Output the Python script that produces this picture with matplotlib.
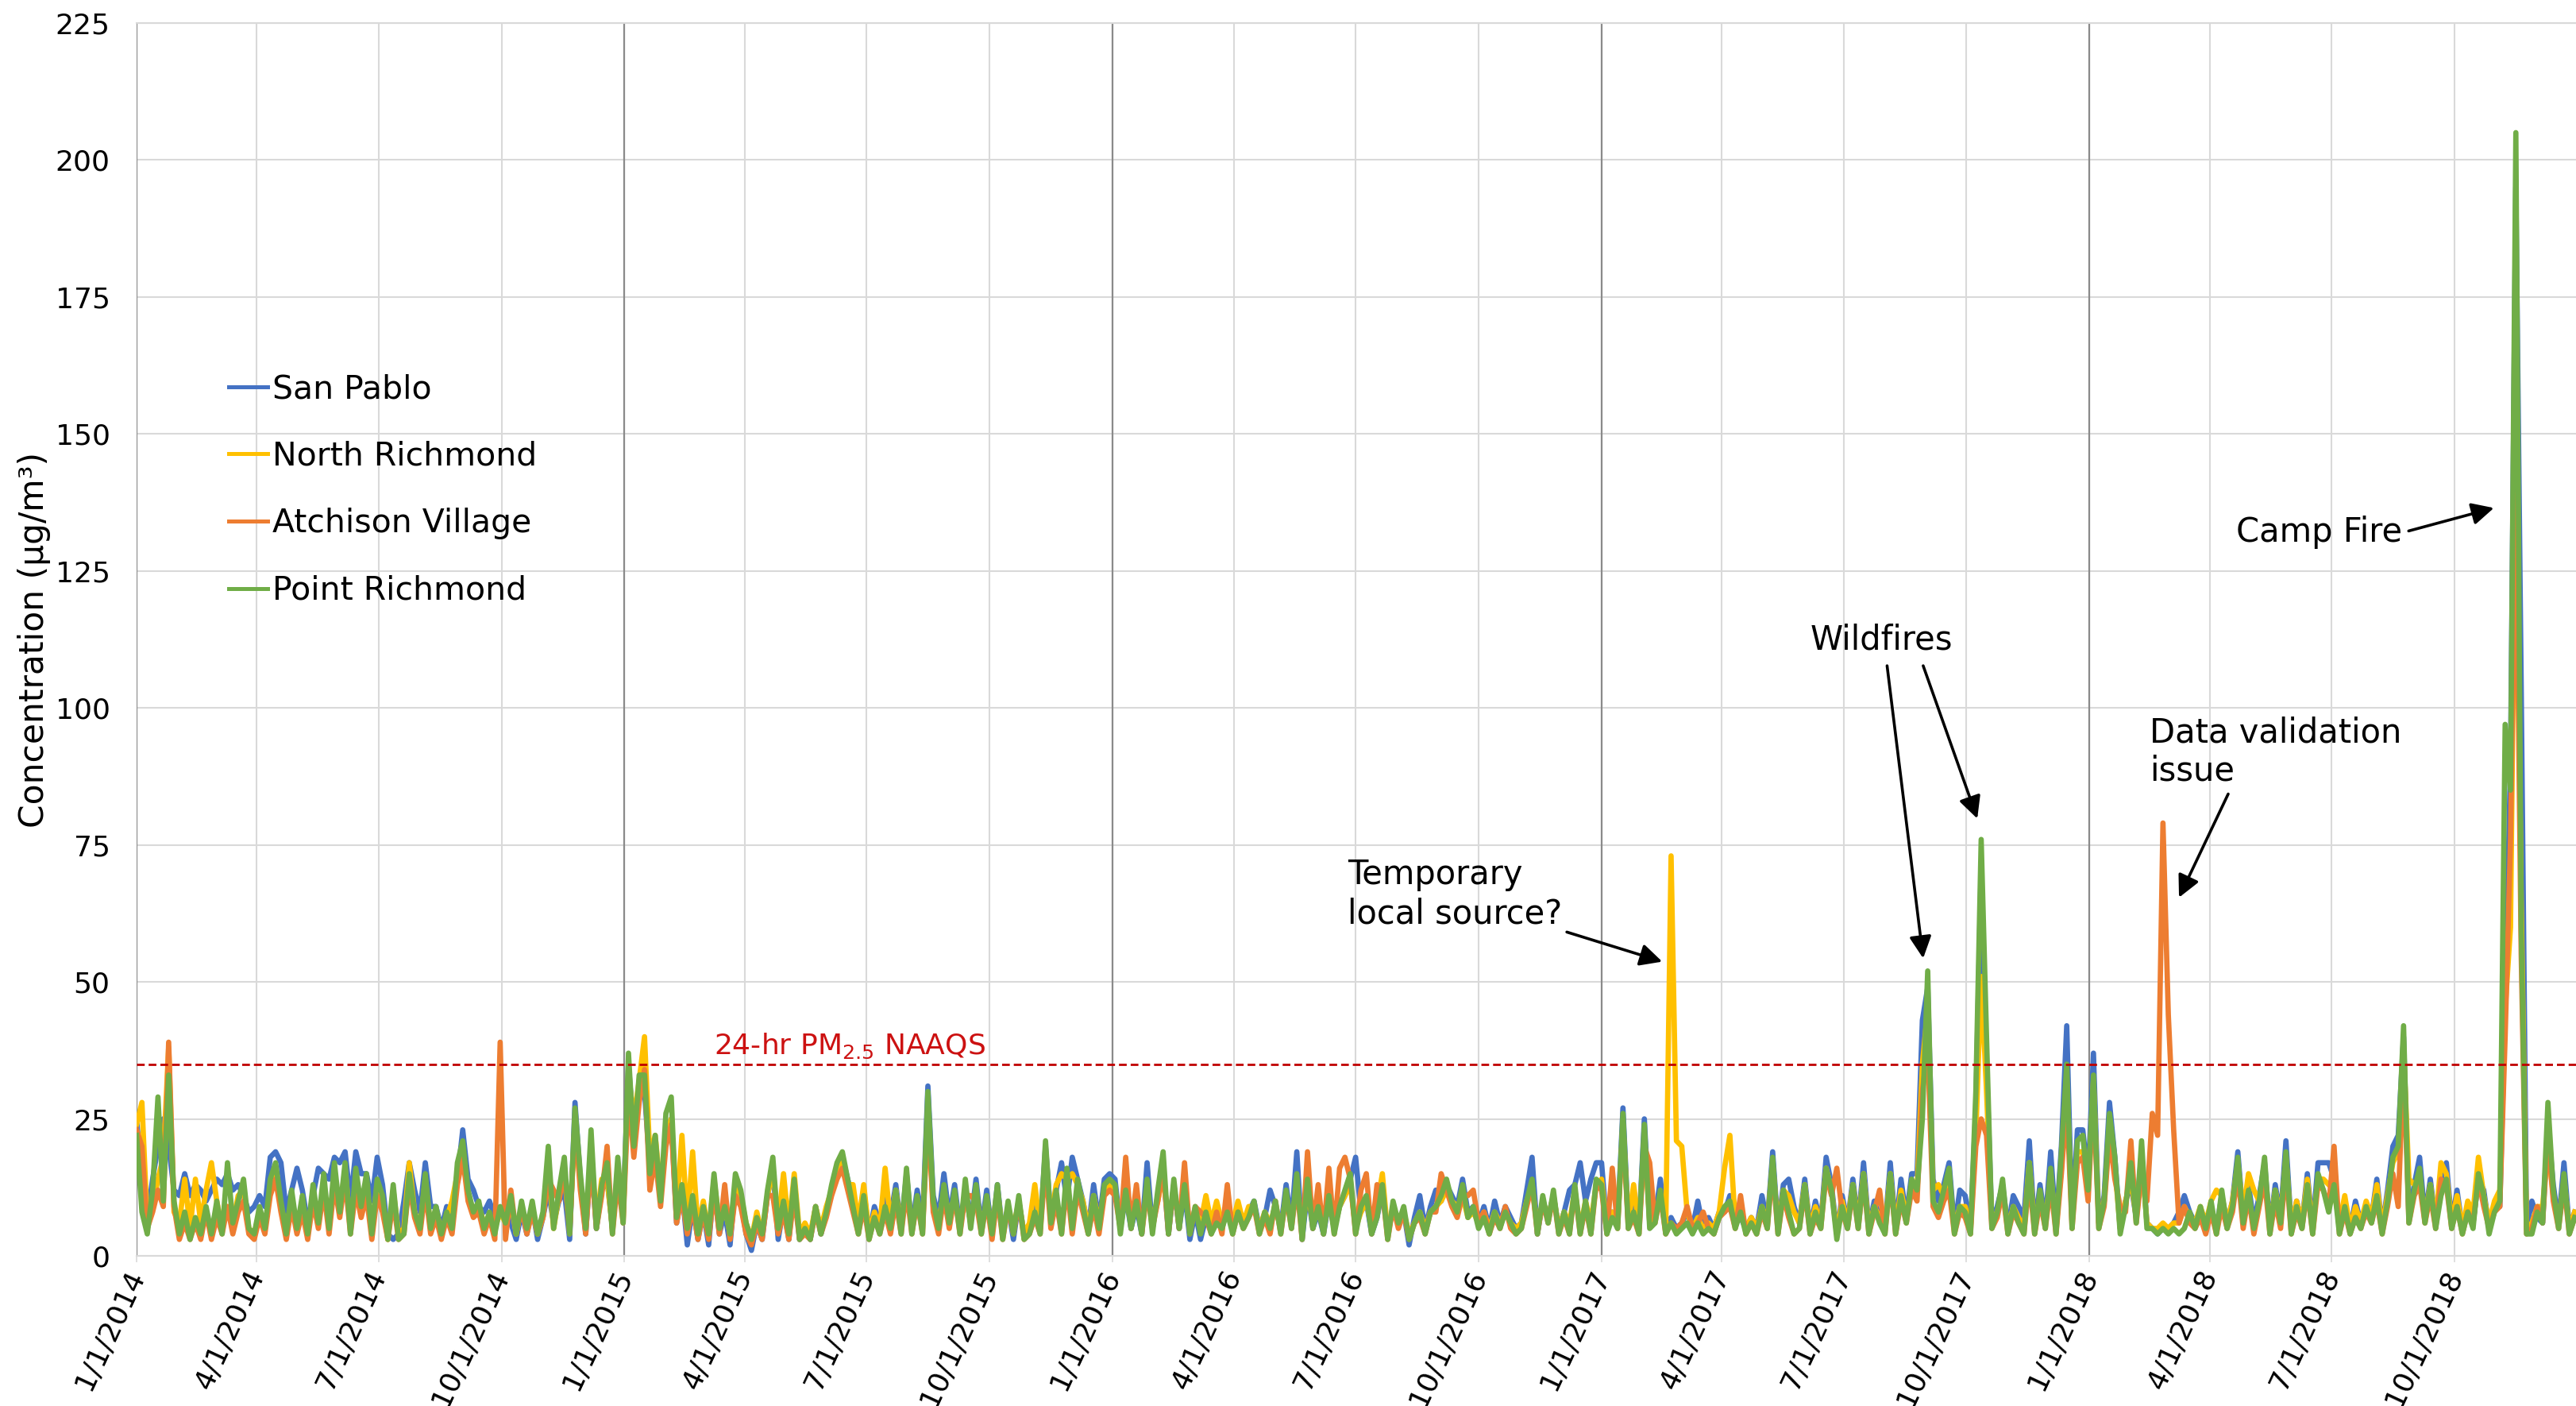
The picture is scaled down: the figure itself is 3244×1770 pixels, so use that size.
import matplotlib
matplotlib.use("Agg")
import matplotlib.pyplot as plt
import matplotlib.dates as mdates
import matplotlib.transforms as mtransforms
import pandas as pd
from datetime import datetime

plt.rcParams['font.family'] = ['DejaVu Sans']

# Daily PM2.5 (ug/m3), sampled every 4 days; each yearly block starts on the date below
YEARS = [2014, 2015, 2016, 2017, 2018]
BLOCK_STARTS = ["2014-01-01", "2015-01-04", "2016-01-03", "2017-01-01", "2018-01-04"]

# ---------------- San Pablo ----------------
SAN_PABLO_2014 = [
    25, 13, 7, 14, 20, 25, 20, 12, 11, 15,
    11, 13, 12, 10, 12, 14, 13, 15, 12, 13,
    11, 8, 9, 11, 9, 18, 19, 17, 8, 12,
    16, 12, 6, 11, 16, 15, 14, 18, 17, 19,
    10, 19, 15, 15, 10, 18, 13, 4, 3, 4,
    10, 17, 12, 8, 17, 9, 9, 5, 9, 6,
    14, 23, 14, 12, 9, 8, 10, 7, 8, 9,
    6, 3, 8, 4, 9, 3, 7, 12, 6, 10,
    12, 3, 28, 14, 4, 18, 5, 12, 14, 5,
    16, 8]
SAN_PABLO_2015 = [
    35, 22, 31, 30, 16, 18, 11, 22, 25, 6,
    12, 2, 9, 3, 8, 2, 13, 4, 8, 2,
    13, 10, 4, 1, 6, 3, 11, 16, 3, 9,
    3, 13, 3, 5, 3, 9, 4, 8, 12, 16,
    18, 14, 10, 5, 12, 4, 9, 6, 11, 7,
    13, 5, 15, 5, 12, 6, 31, 11, 7, 15,
    7, 13, 5, 12, 6, 14, 5, 12, 4, 13,
    4, 9, 3, 10, 4, 5, 9, 5, 20, 7,
    12, 17, 10, 18, 14, 10, 5, 13, 6, 14,
    15]
SAN_PABLO_2016 = [
    14, 5, 11, 5, 9, 4, 17, 5, 11, 16,
    4, 13, 5, 12, 3, 8, 3, 7, 5, 8,
    5, 9, 5, 9, 6, 8, 10, 5, 7, 12,
    9, 5, 13, 6, 19, 3, 12, 5, 8, 4,
    10, 5, 9, 11, 14, 18, 8, 10, 4, 7,
    12, 4, 9, 6, 8, 2, 7, 11, 5, 9,
    12, 10, 13, 11, 9, 14, 8, 9, 6, 9,
    5, 10, 6, 9, 7, 5, 6, 12, 18, 4,
    10, 7, 11, 5, 8, 12, 13, 17, 10, 14,
    17]
SAN_PABLO_2017 = [
    17, 5, 8, 6, 27, 6, 9, 5, 25, 6,
    7, 14, 5, 7, 5, 6, 8, 5, 10, 5,
    7, 5, 8, 8, 11, 9, 7, 5, 7, 5,
    11, 6, 19, 5, 13, 14, 9, 6, 14, 5,
    10, 6, 18, 13, 4, 11, 6, 14, 6, 17,
    5, 10, 7, 5, 17, 5, 14, 7, 15, 15,
    43, 49, 14, 10, 13, 17, 5, 12, 11, 5,
    27, 71, 35, 6, 9, 13, 5, 11, 9, 7,
    21, 5, 13, 6, 19, 5, 20, 42, 6, 23,
    23, 14]
SAN_PABLO_2018 = [
    37, 6, 11, 28, 18, 5, 10, 13, 7, 19,
    6, 5, 4, 5, 5, 6, 8, 11, 8, 6,
    8, 5, 9, 5, 11, 6, 10, 19, 7, 13,
    6, 11, 17, 5, 13, 7, 21, 5, 10, 6,
    15, 5, 17, 17, 17, 14, 5, 9, 5, 10,
    6, 9, 7, 14, 5, 12, 20, 22, 40, 7,
    13, 18, 7, 14, 6, 12, 17, 6, 12, 5,
    9, 6, 14, 12, 5, 9, 9, 45, 90, 195,
    104, 5, 10, 7, 6, 24, 13, 6, 17, 5,
    8]

# ---------------- North Richmond ----------------
NORTH_RICHMOND_2014 = [
    24, 28, 6, 9, 14, 18, 38, 8, 6, 14,
    5, 14, 6, 12, 17, 10, 5, 9, 6, 11,
    12, 5, 4, 8, 5, 12, 15, 9, 5, 10,
    5, 9, 4, 12, 6, 13, 5, 15, 8, 16,
    5, 14, 9, 13, 5, 13, 10, 3, 12, 4,
    5, 17, 8, 5, 14, 5, 8, 5, 7, 10,
    15, 19, 11, 8, 9, 6, 7, 5, 8, 6,
    10, 4, 9, 5, 9, 4, 7, 16, 5, 11,
    15, 5, 24, 13, 5, 19, 6, 14, 14, 5,
    15, 7]
NORTH_RICHMOND_2015 = [
    33, 25, 32, 40, 18, 22, 12, 22, 25, 8,
    22, 6, 19, 5, 10, 4, 14, 6, 9, 4,
    13, 11, 6, 3, 8, 4, 11, 16, 6, 15,
    5, 15, 4, 6, 4, 9, 5, 9, 12, 16,
    17, 13, 13, 6, 13, 4, 8, 5, 16, 6,
    12, 5, 14, 5, 10, 5, 27, 9, 6, 12,
    7, 11, 5, 12, 6, 12, 5, 10, 5, 12,
    4, 9, 5, 10, 4, 6, 13, 5, 18, 7,
    13, 15, 14, 15, 13, 10, 5, 11, 6, 12,
    13]
NORTH_RICHMOND_2016 = [
    12, 6, 11, 6, 10, 5, 12, 6, 10, 15,
    6, 12, 7, 13, 5, 8, 6, 11, 6, 10,
    6, 9, 6, 10, 6, 9, 9, 5, 8, 6,
    9, 5, 11, 6, 13, 5, 12, 6, 8, 5,
    10, 5, 9, 11, 13, 5, 8, 10, 5, 9,
    15, 4, 9, 6, 8, 4, 6, 8, 5, 8,
    9, 10, 12, 10, 9, 11, 7, 8, 6, 8,
    5, 8, 6, 8, 6, 5, 6, 10, 13, 5,
    10, 7, 11, 5, 8, 6, 12, 5, 10, 6,
    13]
NORTH_RICHMOND_2017 = [
    14, 5, 8, 6, 24, 6, 13, 5, 22, 6,
    7, 11, 5, 73, 21, 20, 8, 5, 7, 5,
    6, 5, 8, 16, 22, 6, 8, 5, 7, 5,
    9, 6, 17, 5, 12, 11, 8, 6, 13, 5,
    9, 6, 16, 12, 4, 10, 6, 13, 6, 15,
    5, 9, 7, 5, 15, 5, 12, 7, 13, 12,
    35, 45, 12, 13, 11, 14, 5, 9, 9, 5,
    22, 51, 30, 6, 8, 12, 5, 9, 7, 5,
    17, 5, 11, 6, 15, 5, 16, 32, 6, 19,
    19, 12]
NORTH_RICHMOND_2018 = [
    32, 6, 10, 23, 16, 5, 10, 14, 7, 18,
    6, 5, 5, 6, 5, 6, 6, 9, 7, 6,
    9, 6, 10, 12, 11, 6, 10, 17, 8, 15,
    12, 10, 16, 5, 12, 7, 18, 5, 10, 6,
    14, 5, 14, 14, 13, 12, 6, 11, 5, 9,
    6, 10, 7, 13, 5, 11, 17, 19, 38, 14,
    13, 14, 7, 13, 6, 17, 15, 6, 11, 5,
    10, 8, 18, 11, 6, 10, 12, 45, 60, 150,
    65, 5, 6, 9, 9, 20, 11, 6, 14, 5,
    8]

# ---------------- Atchison Village ----------------
ATCHISON_VILLAGE_2014 = [
    23, 20, 5, 8, 12, 9, 39, 9, 3, 6,
    3, 6, 3, 8, 3, 7, 4, 9, 4, 8,
    10, 4, 3, 7, 4, 11, 14, 8, 3, 9,
    4, 8, 3, 10, 5, 12, 4, 13, 7, 14,
    4, 12, 7, 11, 3, 11, 8, 3, 10, 3,
    4, 13, 7, 4, 12, 4, 7, 3, 7, 4,
    13, 18, 10, 7, 8, 4, 7, 3, 39, 3,
    12, 4, 9, 4, 8, 4, 7, 14, 12, 10,
    16, 4, 25, 12, 4, 18, 5, 11, 20, 4,
    14, 6]
ATCHISON_VILLAGE_2015 = [
    30, 18, 28, 34, 12, 18, 9, 20, 24, 6,
    11, 4, 9, 3, 8, 3, 12, 4, 13, 3,
    11, 9, 4, 2, 6, 3, 11, 11, 4, 8,
    3, 11, 3, 4, 3, 8, 4, 7, 11, 14,
    16, 12, 8, 4, 9, 3, 7, 4, 8, 4,
    10, 4, 12, 4, 10, 4, 26, 8, 4, 11,
    5, 11, 4, 11, 11, 10, 4, 10, 3, 11,
    3, 9, 4, 10, 3, 4, 7, 4, 17, 5,
    10, 4, 13, 4, 12, 8, 4, 9, 4, 11,
    12]
ATCHISON_VILLAGE_2016 = [
    11, 5, 18, 5, 13, 4, 12, 5, 10, 16,
    4, 13, 5, 17, 4, 9, 8, 7, 4, 8,
    4, 13, 4, 8, 5, 7, 9, 4, 7, 4,
    10, 4, 11, 5, 13, 3, 19, 5, 13, 4,
    16, 4, 16, 18, 14, 4, 12, 15, 4, 13,
    12, 3, 9, 5, 8, 3, 6, 7, 4, 8,
    8, 15, 12, 9, 7, 11, 11, 12, 6, 8,
    4, 7, 5, 9, 5, 4, 5, 9, 13, 4,
    10, 6, 11, 4, 7, 4, 12, 4, 9, 4,
    13]
ATCHISON_VILLAGE_2017 = [
    12, 4, 16, 5, 24, 5, 7, 4, 20, 17,
    6, 11, 4, 6, 5, 6, 9, 5, 6, 8,
    5, 4, 7, 8, 9, 5, 11, 4, 6, 4,
    8, 5, 16, 4, 11, 7, 4, 5, 12, 4,
    7, 5, 15, 11, 16, 8, 5, 12, 5, 14,
    4, 8, 12, 4, 14, 4, 10, 6, 12, 10,
    30, 38, 9, 7, 10, 12, 4, 8, 7, 4,
    20, 25, 22, 5, 7, 12, 4, 8, 6, 4,
    14, 4, 10, 5, 13, 4, 15, 28, 5, 17,
    18, 10]
ATCHISON_VILLAGE_2018 = [
    30, 5, 9, 22, 14, 9, 8, 21, 6, 15,
    10, 26, 22, 79, 44, 23, 6, 9, 6, 5,
    7, 4, 8, 4, 9, 5, 8, 15, 5, 11,
    4, 9, 14, 4, 10, 5, 16, 4, 8, 5,
    12, 4, 13, 12, 9, 20, 4, 8, 4, 7,
    5, 8, 6, 10, 4, 9, 15, 9, 36, 6,
    11, 13, 6, 11, 5, 14, 13, 5, 9, 4,
    8, 6, 14, 9, 5, 8, 9, 40, 76, 140,
    55, 4, 5, 9, 6, 22, 10, 5, 13, 4,
    7]

# ---------------- Point Richmond ----------------
POINT_RICHMOND_2014 = [
    22, 8, 4, 12, 29, 10, 33, 10, 4, 8,
    3, 7, 4, 9, 4, 10, 4, 17, 6, 10,
    14, 5, 4, 9, 5, 14, 17, 10, 4, 12,
    5, 11, 4, 13, 6, 15, 5, 17, 8, 17,
    4, 16, 9, 15, 4, 14, 11, 3, 13, 3,
    4, 15, 8, 5, 15, 5, 9, 4, 8, 5,
    17, 21, 12, 8, 10, 5, 8, 4, 9, 6,
    11, 4, 10, 5, 10, 4, 8, 20, 5, 12,
    18, 4, 27, 15, 5, 23, 5, 13, 17, 4,
    18, 6]
POINT_RICHMOND_2015 = [
    37, 20, 33, 33, 15, 22, 10, 26, 29, 7,
    13, 5, 11, 4, 9, 4, 15, 5, 9, 4,
    15, 12, 6, 3, 7, 4, 12, 18, 5, 10,
    4, 14, 3, 5, 3, 9, 4, 8, 13, 17,
    19, 14, 9, 4, 11, 3, 7, 4, 9, 5,
    12, 4, 16, 4, 11, 4, 30, 10, 5, 13,
    6, 12, 4, 14, 5, 13, 4, 11, 4, 13,
    3, 10, 4, 11, 3, 4, 8, 4, 21, 6,
    12, 4, 16, 5, 14, 9, 4, 11, 5, 13,
    14]
POINT_RICHMOND_2016 = [
    13, 4, 12, 5, 10, 4, 14, 4, 12, 19,
    4, 14, 5, 13, 4, 9, 4, 8, 4, 6,
    5, 8, 4, 8, 5, 7, 10, 4, 8, 5,
    10, 4, 12, 5, 15, 3, 14, 5, 9, 4,
    11, 4, 9, 12, 15, 4, 9, 11, 4, 7,
    13, 3, 10, 6, 9, 3, 6, 8, 4, 8,
    9, 11, 14, 10, 8, 13, 7, 9, 5, 7,
    4, 8, 5, 8, 6, 4, 5, 10, 14, 4,
    11, 6, 12, 4, 8, 4, 13, 4, 10, 4,
    14]
POINT_RICHMOND_2017 = [
    13, 4, 7, 5, 26, 5, 8, 4, 24, 5,
    6, 12, 4, 6, 4, 5, 6, 4, 6, 4,
    5, 4, 7, 9, 10, 5, 8, 4, 6, 4,
    9, 5, 18, 4, 12, 8, 4, 5, 13, 4,
    8, 5, 16, 12, 3, 9, 5, 13, 5, 15,
    4, 9, 6, 4, 15, 4, 11, 6, 14, 12,
    25, 52, 10, 8, 12, 16, 4, 9, 8, 4,
    30, 76, 40, 5, 8, 14, 4, 9, 6, 4,
    17, 4, 12, 5, 16, 4, 19, 35, 5, 21,
    22, 12]
POINT_RICHMOND_2018 = [
    33, 5, 10, 26, 18, 4, 9, 17, 6, 21,
    5, 5, 4, 5, 4, 5, 4, 5, 8, 5,
    9, 5, 10, 4, 12, 5, 9, 18, 6, 12,
    5, 10, 18, 4, 12, 6, 19, 4, 9, 5,
    13, 4, 15, 12, 8, 13, 4, 9, 4, 7,
    5, 9, 6, 11, 4, 10, 18, 20, 42, 6,
    12, 16, 6, 13, 5, 11, 14, 5, 9, 4,
    8, 5, 15, 11, 4, 8, 10, 97, 85, 205,
    60, 4, 4, 8, 6, 28, 12, 5, 15, 4,
    7]

SITES = ["San Pablo", "North Richmond", "Atchison Village", "Point Richmond"]
SITE_BLOCKS = [
    [SAN_PABLO_2014, SAN_PABLO_2015, SAN_PABLO_2016, SAN_PABLO_2017, SAN_PABLO_2018],
    [NORTH_RICHMOND_2014, NORTH_RICHMOND_2015, NORTH_RICHMOND_2016, NORTH_RICHMOND_2017, NORTH_RICHMOND_2018],
    [ATCHISON_VILLAGE_2014, ATCHISON_VILLAGE_2015, ATCHISON_VILLAGE_2016, ATCHISON_VILLAGE_2017, ATCHISON_VILLAGE_2018],
    [POINT_RICHMOND_2014, POINT_RICHMOND_2015, POINT_RICHMOND_2016, POINT_RICHMOND_2017, POINT_RICHMOND_2018],
]
SITE_COLORS = ["#4472C4", "#FFC000", "#ED7D31", "#70AD47"]

NAAQS_24HR = 35
Y_TICKS = list(range(0, 226, 25))
X_TICKS = pd.date_range("2014-01-01", "2018-10-01", freq="QS")
X_TICK_LABELS = [f"{d.month}/{d.day}/{d.year}" for d in X_TICKS]
YEAR_LINES = pd.date_range("2014-01-01", "2018-01-01", freq="YS")


def build_series(blocks):
    dates, values = [], []
    for start, block in zip(BLOCK_STARTS, blocks):
        dates.extend(pd.date_range(start, periods=len(block), freq="4D"))
        values.extend(block)
    return dates, values


W, H = 3244, 1770
fig = plt.figure(figsize=(W / 100, H / 100), dpi=100)
left, right, top, bottom = 172, 3244, 29, 1581
ax = fig.add_axes([left / W, 1 - bottom / H, (right - left) / W, (bottom - top) / H])

GRID = "#d9d9d9"
ax.set_xlim(datetime(2014, 1, 1), datetime(2018, 12, 31))
ax.set_ylim(0, 225)
ax.set_yticks(Y_TICKS)
ax.set_xticks(X_TICKS)
ax.set_xticklabels(X_TICK_LABELS, rotation=65, ha="right", va="center",
                   rotation_mode="anchor")
shift = mtransforms.ScaledTranslation(7 / 100, 0, fig.dpi_scale_trans)
for lbl in ax.get_xticklabels():
    lbl.set_transform(lbl.get_transform() + shift)
ax.grid(True, color=GRID, lw=1.5, zorder=0)
ax.set_axisbelow(True)
for d in YEAR_LINES:
    ax.axvline(d, color="#8a8a8a", lw=1.6, zorder=1)

for side in ["right", "left"]:
    ax.spines[side].set_visible(False)
ax.spines["top"].set_color(GRID)
ax.spines["bottom"].set_color(GRID)
ax.spines["top"].set_linewidth(1.5)
ax.spines["bottom"].set_linewidth(1.5)

ax.tick_params(axis="y", length=0, pad=24, labelsize=26)
ax.tick_params(axis="x", length=6, width=1.2, color=GRID, pad=8, labelsize=26)

ax.set_ylabel("Concentration (\u00b5g/m\u00b3)", fontsize=30.5)
ax.yaxis.set_label_coords(-0.035, 0.5)

handles = []
for name, blocks, color in zip(SITES, SITE_BLOCKS, SITE_COLORS):
    x, y = build_series(blocks)
    ln, = ax.plot(x, y, color=color, lw=4.8, solid_joinstyle="round", label=name, zorder=3)
    handles.append(ln)

# 24-hr PM2.5 standard
ax.axhline(NAAQS_24HR, color="#C00000", lw=2.0, dashes=(3.5, 1.8), zorder=4)
base = mdates.date2num(datetime(2014, 1, 1))
ax.text(base + 432, 36.8, "24-hr PM$_{2.5}$ NAAQS", color="#CC1111", fontsize=26,
        ha="left", va="baseline", zorder=5)

leg = ax.legend(handles=handles, loc="upper left", bbox_to_anchor=(288 / W, 1 - 470 / H),
                bbox_transform=fig.transFigure, frameon=False, fontsize=29.5,
                handlelength=1.2, handletextpad=0.15, labelspacing=1.09,
                borderpad=0, borderaxespad=0)
for lh in leg.get_lines():
    lh.set_linewidth(3.6)

# Event annotations
arrow = dict(arrowstyle="-|>", color="black", lw=2.6, mutation_scale=42,
             shrinkA=0, shrinkB=0)
ANN_FS = 30
ax.text(base + 905.8, 66, "Temporary\nlocal source?", fontsize=ANN_FS, ha="left", va="center")
ax.annotate("", xy=(base + 1141.4, 53.7), xytext=(base + 1070, 59.1), arrowprops=arrow)

ax.text(base + 1251.9, 112.5, "Wildfires", fontsize=ANN_FS, ha="left", va="center")
ax.annotate("", xy=(base + 1336.6, 54.3), xytext=(base + 1309.6, 107.7), arrowprops=arrow)
ax.annotate("", xy=(base + 1377.1, 79.8), xytext=(base + 1336.6, 107.7), arrowprops=arrow)

ax.text(base + 1505.9, 92, "Data validation\nissue", fontsize=ANN_FS, ha="left", va="center")
ax.annotate("", xy=(base + 1528, 65.4), xytext=(base + 1564.8, 84.3), arrowprops=arrow)

ax.text(base + 1695, 132, "Camp Fire", fontsize=ANN_FS, ha="right", va="center")
ax.annotate("", xy=(base + 1763.6, 136.5), xytext=(base + 1699.8, 132.3), arrowprops=arrow)

fig.savefig("out.png", dpi=100)
